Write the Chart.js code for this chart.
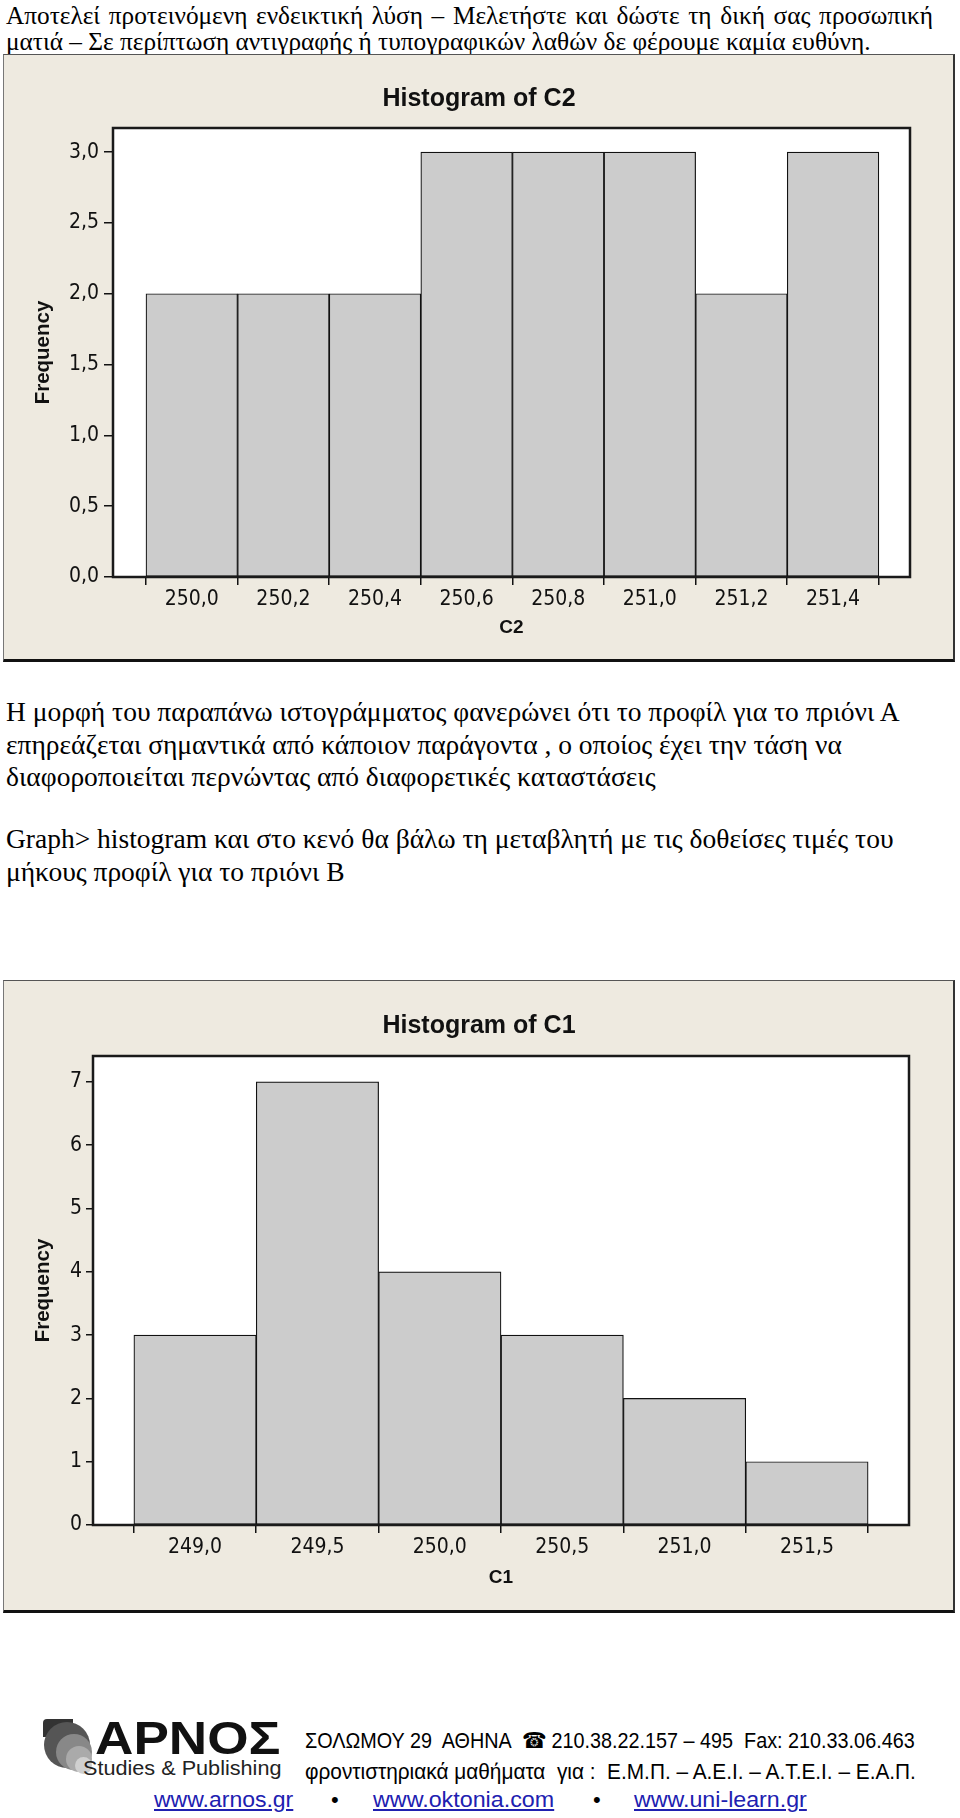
<!DOCTYPE html>
<html lang="el">
<head>
<meta charset="utf-8">
<script src="https://cdn.jsdelivr.net/npm/chart.js@4.4.1/dist/chart.umd.min.js"></script>
<style>
  body { margin: 0; width: 960px; height: 1818px; background: #fff; position: relative; overflow: hidden;
         font-family: 'Liberation Serif', 'Times New Roman', serif; color: #000; }
  .line { position: absolute; left: 6px; white-space: nowrap; }
  .head { font-size: 25.3px; line-height: 27px; }
  .just { width: 927px; white-space: normal; text-align: justify; text-align-last: justify; }
  .body { font-size: 27.5px; line-height: 33px; }
  .panel { position: absolute; left: 3px; width: 952px; background: #eeeae0; }
  .panel canvas { position: absolute; left: 0; top: 0; }
  .edge { position: absolute; inset: 0; box-sizing: border-box; pointer-events: none;
          border-top: 1px solid #555; border-left: 1px solid #777; border-right: 2px solid #333; border-bottom: 3px solid #111; }
  .foot { position: absolute; font-family: 'Liberation Sans', Arial, sans-serif; white-space: pre; transform-origin: 0 50%; }
  .link { color: #2020b0; text-decoration: underline; }
</style>
</head>
<body>

<div class="line head just" style="top:2px">Αποτελεί προτεινόμενη ενδεικτική λύση – Μελετήστε και δώστε τη δική σας προσωπική</div>
<div class="line head" style="top:28px">ματιά – Σε περίπτωση αντιγραφής ή τυπογραφικών λαθών δε φέρουμε καμία ευθύνη.</div>

<div class="panel" style="top:54px;height:608px">
  <canvas id="histC2" width="952" height="608"></canvas>
  <div class="edge"></div>
</div>

<div class="line body" style="top:695px">Η μορφή του παραπάνω ιστογράμματος φανερώνει ότι το προφίλ για το πριόνι Α</div>
<div class="line body" style="top:728px">επηρεάζεται σημαντικά από κάποιον παράγοντα , ο οποίος έχει την τάση να</div>
<div class="line body" style="top:760px">διαφοροποιείται περνώντας από διαφορετικές καταστάσεις</div>
<div class="line body" style="top:822px">Graph&gt; histogram και στο κενό θα βάλω τη μεταβλητή με τις δοθείσες τιμές του</div>
<div class="line body" style="top:855px">μήκους προφίλ για το πριόνι Β</div>

<div class="panel" style="top:980px;height:633px">
  <canvas id="histC1" width="952" height="633"></canvas>
  <div class="edge"></div>
</div>

<!-- logo -->
<div style="position:absolute;left:43px;top:1719px;width:30px;height:18px;background:#333;border-radius:4px 0 0 0"></div>
<div style="position:absolute;left:44px;top:1722px;width:46px;height:46px;border-radius:50%;background:#555"></div>
<div style="position:absolute;left:56px;top:1734px;width:36px;height:36px;border-radius:50%;background:#888"></div>
<div style="position:absolute;left:66px;top:1746px;width:26px;height:26px;border-radius:50%;background:#aaa"></div>
<div style="position:absolute;left:75px;top:1757px;width:17px;height:17px;border-radius:50%;background:#d0d0d0"></div>
<div class="foot" data-w="186" style="left:95px;top:1714px;font-size:46px;line-height:48px;font-weight:bold;color:#111">ΑΡΝΟΣ</div>
<div class="foot" data-w="198" style="left:83px;top:1756px;font-size:20px;line-height:24px;color:#222">Studies &amp; Publishing</div>

<div class="foot" data-w="610" style="left:305px;top:1728px;font-size:22px;line-height:26px">ΣΟΛΩΜΟΥ 29  ΑΘΗΝΑ  ☎ 210.38.22.157 – 495  Fax: 210.33.06.463</div>
<div class="foot" data-w="611" style="left:305px;top:1759px;font-size:22px;line-height:26px">φροντιστηριακά μαθήματα  για :  Ε.Μ.Π. – Α.Ε.Ι. – Α.Τ.Ε.Ι. – Ε.Α.Π.</div>
<div class="foot link" data-w="139" style="left:154px;top:1787px;font-size:22px;line-height:26px">www.arnos.gr</div>
<div class="foot" style="left:331px;top:1787px;font-size:22px;line-height:26px">•</div>
<div class="foot link" data-w="181" style="left:373px;top:1787px;font-size:22px;line-height:26px">www.oktonia.com</div>
<div class="foot" style="left:593px;top:1787px;font-size:22px;line-height:26px">•</div>
<div class="foot link" data-w="173" style="left:634px;top:1787px;font-size:22px;line-height:26px">www.uni-learn.gr</div>

<script>
// Histogram of C2 (πριόνι Α)
var c2Bins = [250.0, 250.2, 250.4, 250.6, 250.8, 251.0, 251.2, 251.4];
var c2Freq = [2, 2, 2, 3, 3, 3, 2, 3];
var c2YTicks = [0, 0.5, 1, 1.5, 2, 2.5, 3];

// Histogram of C1 (πριόνι Β)
var c1Bins = [249.0, 249.5, 250.0, 250.5, 251.0, 251.5];
var c1Freq = [3, 7, 4, 3, 2, 1];
var c1YTicks = [0, 1, 2, 3, 4, 5, 6, 7];

var tickFont = { family: "'DejaVu Sans Condensed', 'DejaVu Sans', sans-serif", size: 21 };
var titleFamily = "'Liberation Sans', Arial, sans-serif";

function comma1(v) { return Number(v).toFixed(1).replace('.', ','); }

// white plot area and black frame round it
var framePlugin = {
    id: 'frame',
    beforeDraw: function (chart) {
        var a = chart.chartArea, ctx = chart.ctx;
        ctx.save();
        ctx.fillStyle = '#ffffff';
        ctx.fillRect(a.left, a.top, a.right - a.left, a.bottom - a.top);
        ctx.restore();
    },
    afterDatasetsDraw: function (chart) {
        var a = chart.chartArea, ctx = chart.ctx;
        ctx.save();
        ctx.strokeStyle = '#1a1a1a';
        ctx.lineWidth = 2.5;
        ctx.strokeRect(a.left, a.top, a.right - a.left, a.bottom - a.top);
        ctx.restore();
    }
};

function makeHistogram(id, o) {
    return new Chart(document.getElementById(id), {
        type: 'bar',
        data: {
            datasets: [{
                data: o.bins.map(function (x, i) { return { x: x, y: o.freq[i] }; }),
                backgroundColor: '#cccccc',
                borderColor: '#111111',
                borderWidth: 1.2,
                borderSkipped: false,
                barPercentage: 1,
                categoryPercentage: 1
            }]
        },
        options: {
            responsive: false,
            animation: false,
            layout: { padding: 0 },
            plugins: {
                legend: { display: false },
                tooltip: { enabled: false },
                title: {
                    display: true, text: o.title, color: '#111',
                    font: { family: titleFamily, size: 25, weight: 'bold' },
                    padding: { top: o.titleTop, bottom: o.titleBottom }
                }
            },
            scales: {
                x: {
                    type: 'linear', min: o.xMin, max: o.xMax, offset: false,
                    afterBuildTicks: function (s) { s.ticks = o.bins.map(function (v) { return { value: v }; }); },
                    afterFit: function (s) { s.height = o.xHeight; },
                    ticks: { color: '#111', font: tickFont, padding: 2, maxRotation: 0, autoSkip: false, callback: comma1 },
                    grid: { drawOnChartArea: false, drawTicks: true, tickLength: 8, color: '#111', lineWidth: 1.5 },
                    border: { display: false },
                    title: {
                        display: true, text: o.xTitle, color: '#111',
                        font: { family: titleFamily, size: 19, weight: 'bold' },
                        padding: { top: 0, bottom: o.xTitlePad }
                    }
                },
                y: {
                    min: 0, max: o.yMax,
                    afterBuildTicks: function (s) { s.ticks = o.yTicks.map(function (v) { return { value: v }; }); },
                    afterFit: function (s) { s.width = o.yWidth; },
                    ticks: { color: '#111', font: tickFont, padding: o.yPad, callback: o.yFormat },
                    grid: { drawOnChartArea: false, drawTicks: true, tickLength: o.yTickLen, color: '#111', lineWidth: 1.5 },
                    border: { display: false },
                    title: {
                        display: true, text: 'Frequency', color: '#111',
                        font: { family: titleFamily, size: 20.5, weight: 'bold' },
                        padding: { top: 28, bottom: 0 }
                    }
                },
                // empty right-hand margin, keeps the title centred on the whole panel
                gap: {
                    type: 'linear', position: 'right', display: true,
                    ticks: { display: false }, grid: { display: false }, border: { display: false },
                    afterFit: function (s) { s.width = o.padRight; }
                }
            }
        },
        plugins: [framePlugin]
    });
}

makeHistogram('histC2', {
    title: 'Histogram of C2', xTitle: 'C2',
    bins: c2Bins, freq: c2Freq, yTicks: c2YTicks,
    xMin: 249.828, xMax: 251.568, yMax: 3.17,
    yFormat: comma1, yWidth: 110, yPad: 5, yTickLen: 9,
    xHeight: 85, xTitlePad: 23, padRight: 45,
    titleTop: 30, titleBottom: 14
});

makeHistogram('histC1', {
    title: 'Histogram of C1', xTitle: 'C1',
    bins: c1Bins, freq: c1Freq, yTicks: c1YTicks,
    xMin: 248.583, xMax: 251.917, yMax: 7.41,
    yFormat: function (v) { return String(v); }, yWidth: 90, yPad: 4, yTickLen: 7,
    xHeight: 88, xTitlePad: 24, padRight: 46,
    titleTop: 31, titleBottom: 15
});

// footer lines are set in a narrow face; squeeze them to the measured widths
document.querySelectorAll('.foot[data-w]').forEach(function (el) {
    el.style.transform = 'scaleX(' + (Number(el.dataset.w) / el.offsetWidth) + ')';
});
</script>
</body>
</html>
